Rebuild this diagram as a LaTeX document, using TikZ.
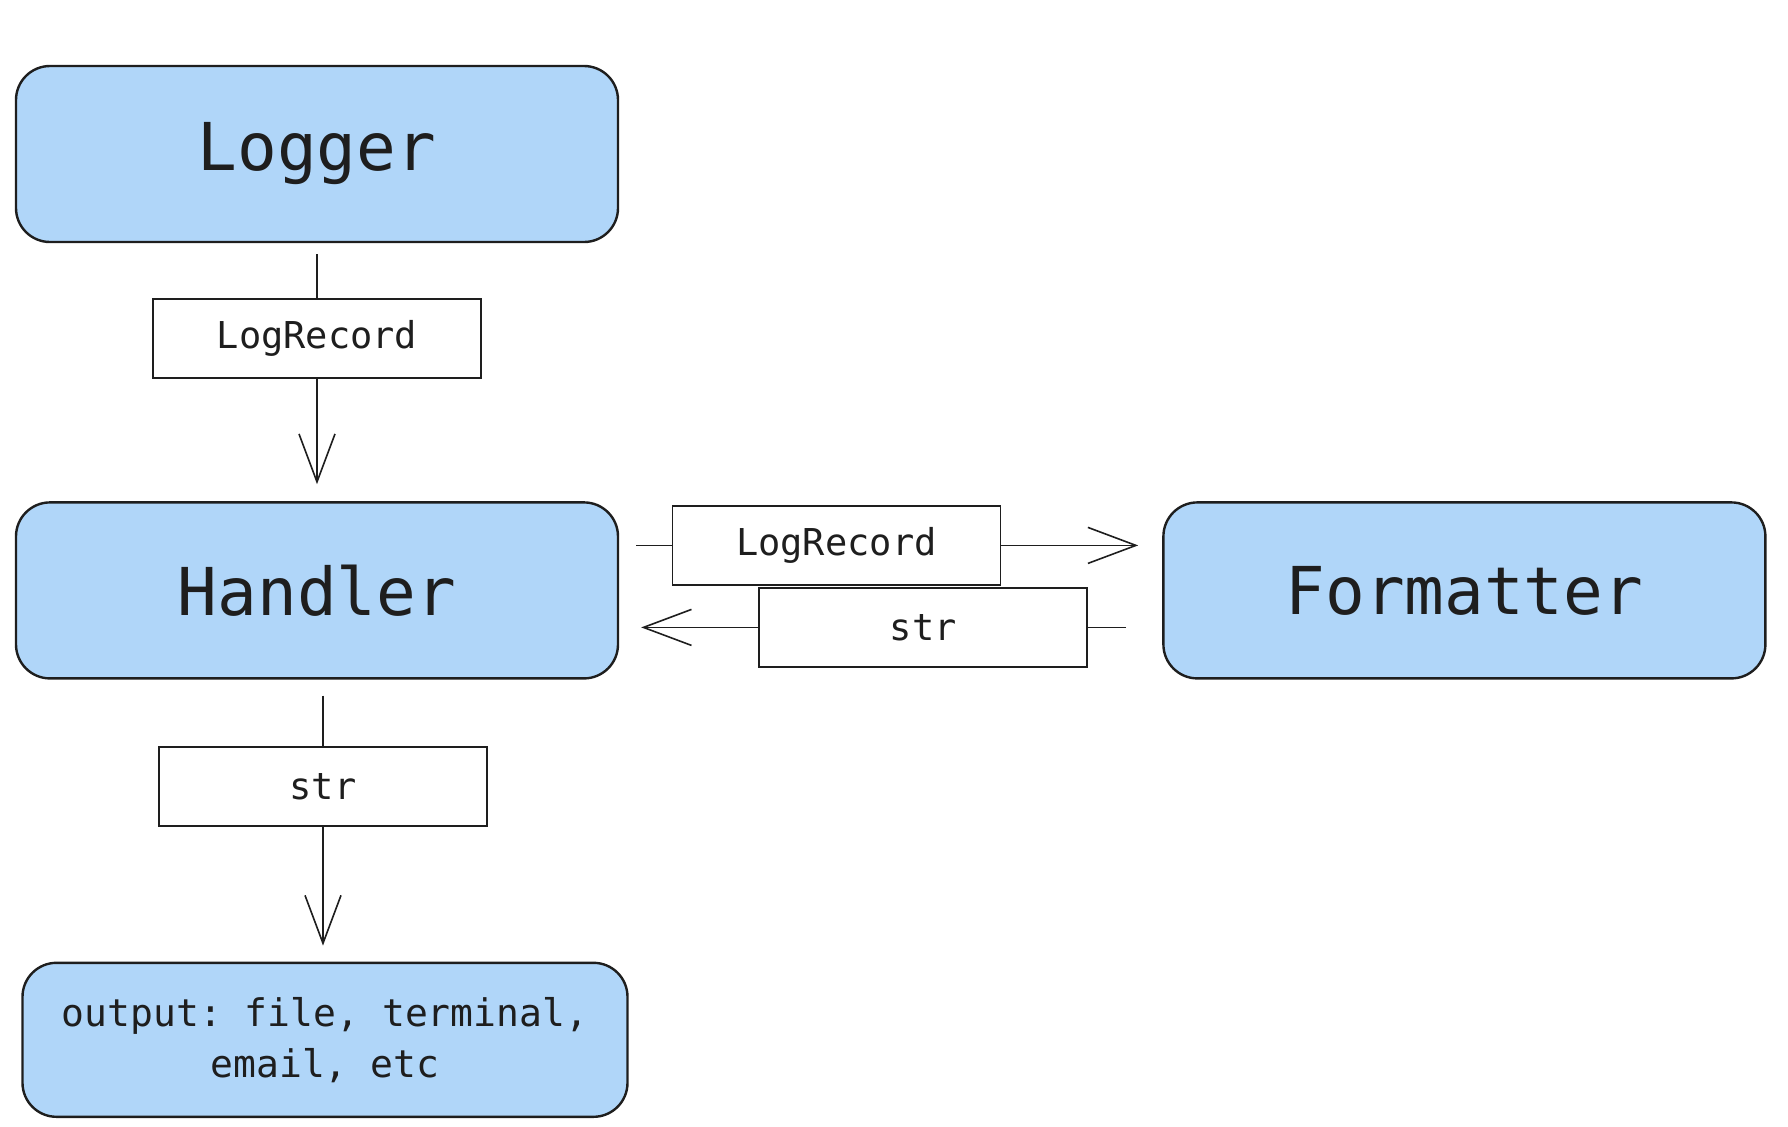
\documentclass[tikz,border=0pt]{standalone}
\usepackage{fontspec}
\setmonofont{DejaVu Sans Mono}
\usetikzlibrary{arrows.meta,positioning}
\definecolor{boxblue}{RGB}{176,214,249}
\definecolor{ink}{RGB}{30,30,30}
\tikzstyle{block}=[rectangle,draw=ink,line width=1.2pt,rounded corners=17pt,fill=boxblue,text=ink,align=center,minimum width=301pt,minimum height=88pt,font=\ttfamily\fontsize{33}{40}\selectfont]
\tikzstyle{outbox}=[block,minimum width=302.5pt,minimum height=77pt,font=\ttfamily\fontsize{19}{25.5}\selectfont]
\tikzstyle{lbl}=[rectangle,draw=ink,line width=0.9pt,fill=white,text=ink,minimum width=164pt,minimum height=39.5pt,font=\ttfamily\fontsize{18.5}{22}\selectfont]
\tikzstyle{arr}=[-{Straight Barb[length=24pt,width=18pt]},line width=0.8pt,draw=ink]

\begin{document}
\begin{tikzpicture}[x=0.5pt,y=-0.5pt,node distance=129pt]
\useasboundingbox (0,0) rectangle (1788,1126);
\node[block] (logger) at (317,154) {Logger};
\node[block, below=of logger] (handler) {Handler};
\node[block, right=271.5pt of handler] (formatter) {Formatter};
\node[outbox, below=141pt of handler, xshift=4pt] (output) {output: file, terminal,\\email, etc};
\draw[arr, shorten <=5.5pt, shorten >=8.5pt] (logger) -- node[lbl, pos=0.37] (rec1) {LogRecord} (handler);
\draw[arr, shorten <=8.5pt, shorten >=12pt] ([yshift=22.5pt]handler.east) -- node[lbl, pos=0.40] (rec2) {LogRecord} ([yshift=22.5pt]formatter.west);
\draw[arr, shorten <=18pt, shorten >=11pt] ([yshift=-18.5pt]formatter.west) -- node[lbl, pos=0.44] (str2) {str} ([yshift=-18.5pt]handler.east);
\draw[arr, shorten <=8pt, shorten >=8pt] ([xshift=3pt]handler.south) -- node[lbl, pos=0.38] (str3) {str} ([xshift=-1pt]output.north);
\end{tikzpicture}
\end{document}
